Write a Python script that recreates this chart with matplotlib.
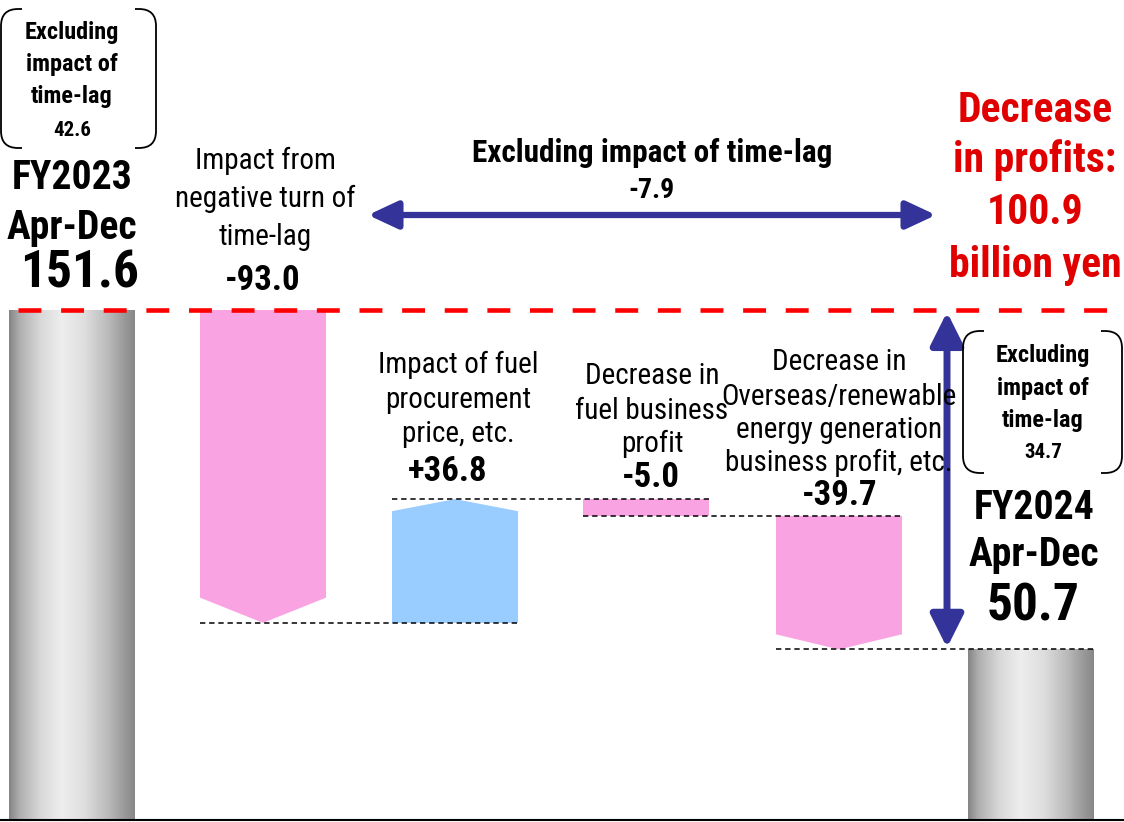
import matplotlib
matplotlib.use("Agg")
import matplotlib.pyplot as plt
import numpy as np
from matplotlib.patches import Polygon, Rectangle, PathPatch
from matplotlib.path import Path
from matplotlib import font_manager

# ---------------- data ----------------
start_label = ["FY2023", "Apr-Dec"]
end_label = ["FY2024", "Apr-Dec"]
step_labels = [
    ["Impact from", "negative turn of", "time-lag"],
    ["Impact of fuel", "procurement", "price, etc."],
    ["Decrease in", "fuel business", "profit"],
    ["Decrease in", "Overseas/renewable", "energy generation", "business profit, etc."],
]
start_value = 151.6
step_values = [-93.0, 36.8, -5.0, -39.7]
end_value = 50.7
excl_timelag_values = [42.6, 34.7]
excl_timelag_change = -7.9
profit_decrease = 100.9

# ---------------- fonts ----------------
avail = {f.name for f in font_manager.fontManager.ttflist}
fams = [f for f in ["Roboto Condensed", "Liberation Sans", "DejaVu Sans"] if f in avail]
plt.rcParams["font.family"] = fams

W, H = 1124, 822
fig = plt.figure(figsize=(W / 100, H / 100), dpi=100)
ax = fig.add_axes([0, 0, 1, 1])
S = 3.364  # px per unit
ax.set_xlim(0, W)
ax.set_ylim(-2 / S, 820 / S)
ax.axis("off")

ov = fig.add_axes([0, 0, 1, 1], zorder=5)
ov.set_xlim(0, W)
ov.set_ylim(H, 0)
ov.axis("off")
ov.patch.set_alpha(0)


def ypx(v):
    return H - ax.transData.transform((0, v))[1]


centers = [72, 263, 455, 646, 839, 1031]
bw = 126
pink = "#F9A3E3"
blue = "#99CCFF"
navy = "#333399"

# gradient cylinders
prof_t = [0.0, 0.08, 0.25, 0.42, 0.6, 0.8, 0.92, 1.0]
prof_v = [0.52, 0.68, 0.85, 0.93, 0.87, 0.72, 0.60, 0.53]
tt = np.linspace(0, 1, 200)
grad = np.interp(tt, prof_t, prof_v)
img = np.tile(grad, (2, 1))


def cylinder(xc, top):
    x0, x1 = xc - bw / 2, xc + bw / 2
    im = ax.imshow(img, cmap="gray", vmin=0, vmax=1, extent=(x0, x1, 0, top),
                   aspect="auto", interpolation="bilinear", zorder=2)
    r = Rectangle((x0, 0), bw, top, transform=ax.transData, facecolor="none", edgecolor="none")
    ax.add_patch(r)
    im.set_clip_path(r)


cylinder(centers[0], start_value)
cylinder(centers[5], end_value)

# waterfall steps
levels = [start_value]
for v in step_values:
    levels.append(levels[-1] + v)
tip = [7.5, 3.6, 0.0, 4.5]
for i, v in enumerate(step_values):
    xc = centers[i + 1]
    x0, x1 = xc - bw / 2, xc + bw / 2
    a, b = levels[i], levels[i + 1]
    d = tip[i]
    if v < 0:
        col = pink
        pts = [(x0, a), (x1, a), (x1, b + d), (xc, b), (x0, b + d)]
    else:
        col = blue
        pts = [(x0, a), (x1, a), (x1, b - d), (xc, b), (x0, b - d)]
    ax.add_patch(Polygon(pts, closed=True, facecolor=col, edgecolor="none", zorder=2))

# connectors
for i in range(1, len(levels)):
    xa = centers[i] - bw / 2
    xb = centers[i + 1] + bw / 2
    ax.plot([xa, xb], [levels[i], levels[i]], color="black", lw=1.1,
            linestyle=(0, (3.5, 2.5)), zorder=3)

# red dashed line at start level
ax.plot([18, 1112], [start_value, start_value], color="#FF0000", lw=3.3,
        linestyle=(0, (5.0, 4.3)), zorder=4)

# vertical double arrow
ax.annotate("", xy=(947, end_value + 0.5), xytext=(947, start_value - 0.6),
            arrowprops=dict(arrowstyle="<|-|>,head_length=1.0,head_width=0.5",
                            mutation_scale=20, color=navy, lw=5,
                            shrinkA=0, shrinkB=0), zorder=6)

# horizontal double arrow
ov.annotate("", xy=(368, 215), xytext=(936, 215),
            arrowprops=dict(arrowstyle="<|-|>,head_length=0.9,head_width=0.42",
                            mutation_scale=20, color=navy, lw=4.5,
                            shrinkA=0, shrinkB=0))

# bottom axis line
ax.axhline(0, color="black", lw=1.5, zorder=5)


def bracket_box(x0, y0, x1, y1, r=17, s=4):
    verts = [(x0 + r + s, y0), (x0 + r, y0), (x0, y0), (x0, y0 + r),
             (x0, y1 - r), (x0, y1), (x0 + r, y1), (x0 + r + s, y1)]
    codes = [Path.MOVETO, Path.LINETO, Path.CURVE3, Path.CURVE3,
             Path.LINETO, Path.CURVE3, Path.CURVE3, Path.LINETO]
    ov.add_patch(PathPatch(Path(verts, codes), facecolor="none", edgecolor="black", lw=1.3))
    verts = [(x1 - r - s, y0), (x1 - r, y0), (x1, y0), (x1, y0 + r),
             (x1, y1 - r), (x1, y1), (x1 - r, y1), (x1 - r - s, y1)]
    ov.add_patch(PathPatch(Path(verts, codes), facecolor="none", edgecolor="black", lw=1.3))


bracket_box(1, 9, 156, 148)
bracket_box(963, 331, 1122, 473)


def txt(x, y, s, size, bold=False, color="black"):
    ov.text(x, y, s, ha="center", va="center", fontsize=size,
            fontweight="bold" if bold else "normal", color=color)


# boxes text
for yy, s in zip([33, 65, 97], ["Excluding", "impact of", "time-lag"]):
    txt(72, yy, s, 17.5, True)
txt(72, 130, f"{excl_timelag_values[0]:.1f}", 15, True)
for yy, s in zip([355, 388, 420], ["Excluding", "impact of", "time-lag"]):
    txt(1043, yy, s, 17.5, True)
txt(1043, 452, f"{excl_timelag_values[1]:.1f}", 15, True)

# start / end labels
txt(72, 178, start_label[0], 28.5, True)
txt(72, 228, start_label[1], 28.5, True)
txt(80, 273, f"{start_value:.1f}", 37, True)
txt(1034, 508, end_label[0], 28.5, True)
txt(1034, 555, end_label[1], 28.5, True)
txt(1033, 606, f"{end_value:.1f}", 37, True)

# step labels (anchored to the step's top level)
ref_top = [310, 466, 466, 487]
line_ys = [[161, 199, 237], [332, 367, 401], [343, 378, 411], [333, 368, 401, 434]]
val_ys = [280, 438, 444, 467]
text_x = [265, 458, 652, 839]
val_x = [263, 448, 651, 840]
for i, v in enumerate(step_values):
    top = max(levels[i], levels[i + 1])
    shift = ypx(top) - ref_top[i]
    for yy, s in zip(line_ys[i], step_labels[i]):
        txt(text_x[i], yy + shift, s, 21)
    txt(val_x[i], val_ys[i] + shift, f"{v:+.1f}" if v > 0 else f"{v:.1f}", 25, True)

# horizontal arrow label
txt(652, 153, "Excluding impact of time-lag", 22.5, True)
txt(652, 190, f"{excl_timelag_change:.1f}", 20, True)

# red summary
red = "#E00000"
for yy, s in zip([110, 160, 212, 265],
                 ["Decrease", "in profits:", f"{profit_decrease:.1f}", "billion yen"]):
    txt(1035, yy, s, 30, True, red)

fig.savefig("out.png", dpi=100)
